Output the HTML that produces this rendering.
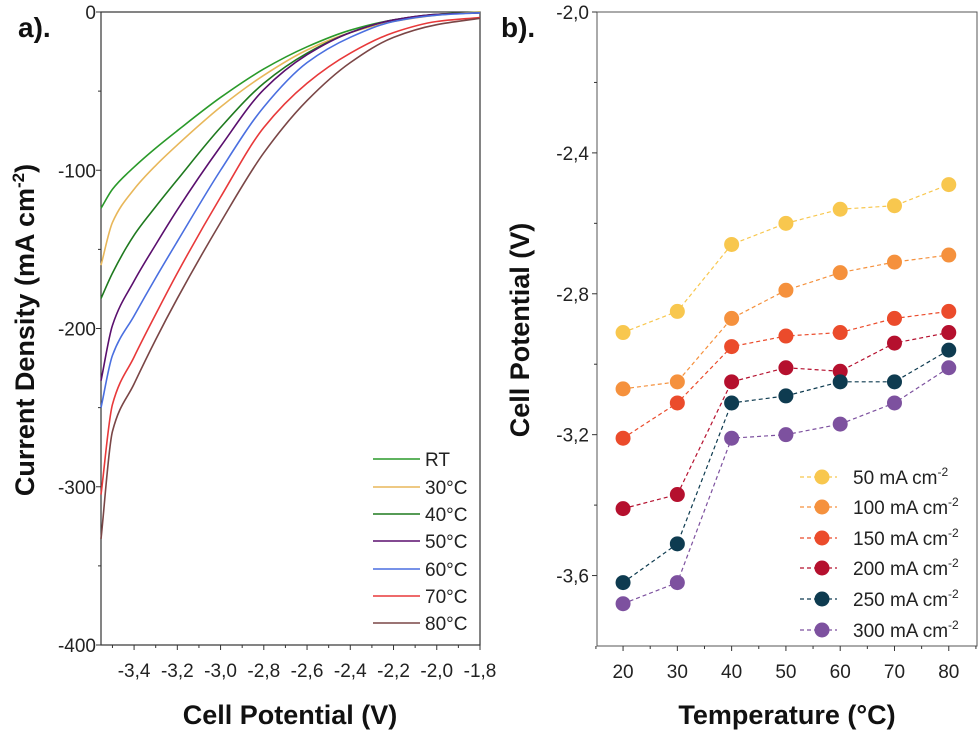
<!DOCTYPE html>
<html><head><meta charset="utf-8"><style>
html,body{margin:0;padding:0;background:#fff;}
svg{display:block;font-family:"Liberation Sans",sans-serif;}
</style></head><body>
<svg id="c" width="980" height="733" viewBox="0 0 980 733" xmlns="http://www.w3.org/2000/svg"></svg>
<script>
// ---- Panel a data ----
const potentials = [-3.553,-3.5,-3.4,-3.3,-3.2,-3.0,-2.8,-2.6,-2.4,-2.2,-2.0,-1.8];
const seriesA_names = ["RT","30°C","40°C","50°C","60°C","70°C","80°C"];
const seriesA_colors = ["#2a9a2a","#e8b75a","#1f7a1f","#5a0f6e","#4a6fe0","#e8393a","#7a4646"];
const jRT  = [-124,-112,-98,-86,-75,-54,-36,-22,-11.5,-5,-1.5,0];
const j30  = [-160,-133,-112,-97,-84,-60,-40,-24,-13,-6,-2,0];
const j40  = [-181,-165,-141,-123,-106,-73,-45,-26,-13,-5,-1.5,-0.5];
const j50  = [-233,-198,-170,-147,-125,-85,-49,-27,-13,-5,-1.5,-0.5];
const j60  = [-250,-217,-192,-168,-145,-100,-60,-32,-16,-6,-2,-0.5];
const j70  = [-305,-248,-218,-191,-165,-117,-73,-45,-26,-13,-6,-3.5];
const j80  = [-333,-265,-235,-207,-181,-133,-89,-56,-32,-16,-8,-4];
const seriesA = [jRT,j30,j40,j50,j60,j70,j80];
const xTicksA = [-3.4,-3.2,-3.0,-2.8,-2.6,-2.4,-2.2,-2.0,-1.8];
const yTicksA = [0,-100,-200,-300,-400];
// ---- Panel b data ----
const temps = [20,30,40,50,60,70,80];
const seriesB_names = ["50 mA cm","100 mA cm","150 mA cm","200 mA cm","250 mA cm","300 mA cm"];
const seriesB_colors = ["#f8c74e","#f5913d","#eb4b2b","#b5102e","#0e3b50","#7d519f"];
const v50  = [-2.91,-2.85,-2.66,-2.60,-2.56,-2.55,-2.49];
const v100 = [-3.07,-3.05,-2.87,-2.79,-2.74,-2.71,-2.69];
const v150 = [-3.21,-3.11,-2.95,-2.92,-2.91,-2.87,-2.85];
const v200 = [-3.41,-3.37,-3.05,-3.01,-3.02,-2.94,-2.91];
const v250 = [-3.62,-3.51,-3.11,-3.09,-3.05,-3.05,-2.96];
const v300 = [-3.68,-3.62,-3.21,-3.20,-3.17,-3.11,-3.01];
const seriesB = [v50,v100,v150,v200,v250,v300];
const xTicksB = [20,30,40,50,60,70,80];
const yTicksB = [-2.0,-2.4,-2.8,-3.2,-3.6];

const NS="http://www.w3.org/2000/svg";
const svg=document.getElementById('c');
function mk(tag,attrs,parent){const e=document.createElementNS(NS,tag);for(const k in attrs)e.setAttribute(k,attrs[k]);(parent||svg).appendChild(e);return e;}
const fmt=v=>v.toFixed(1).replace('.',',');

// Panel a axes
const A={x0:101,x1:480,y0:12,y1:645,xmin:-3.553,xmax:-1.8,ymin:-400,ymax:0};
const xa=v=>A.x0+(v-A.xmin)/(A.xmax-A.xmin)*(A.x1-A.x0);
const ya=v=>A.y0+(A.ymax-v)/(A.ymax-A.ymin)*(A.y1-A.y0);
let g=mk('g',{});


let r=mk('rect',{x:A.x0,y:A.y0,width:A.x1-A.x0,height:A.y1-A.y0,fill:'none',stroke:'#333','stroke-width':1.2},g);


yTicksA.forEach(v=>{
  mk('line',{x1:A.x0,x2:A.x0-5,y1:ya(v),y2:ya(v),stroke:'#333'},g);
  const t=mk('text',{x:A.x0-5,y:ya(v)+7,'text-anchor':'end','font-size':19,fill:'#222'},g);
  t.textContent=v===0?'0':String(v);
  
  
});
[-50,-150,-250,-350].forEach(v=>mk('line',{x1:A.x0,x2:A.x0-3,y1:ya(v),y2:ya(v),stroke:'#333'},g));
xTicksA.forEach(v=>{
  mk('line',{x1:xa(v),x2:xa(v),y1:A.y1,y2:A.y1+5,stroke:'#333'},g);
  const t=mk('text',{x:xa(v),y:A.y1+32,'text-anchor':'middle','font-size':19,fill:'#222'},g);
  t.textContent=fmt(v);
  
  
});
for(let v=-3.5;v<-1.8;v+=0.2) mk('line',{x1:xa(v),x2:xa(v),y1:A.y1,y2:A.y1+3,stroke:'#333'},g);
// monotone cubic (Fritsch-Carlson) for smooth curves through data points
function smooth(pts){
  const n=pts.length,dx=[],sl=[],m=[];
  for(let i=0;i<n-1;i++){dx[i]=pts[i+1][0]-pts[i][0];sl[i]=(pts[i+1][1]-pts[i][1])/dx[i];}
  m[0]=sl[0];m[n-1]=sl[n-2];
  for(let i=1;i<n-1;i++){ if(sl[i-1]*sl[i]<=0) m[i]=0; else { const w1=2*dx[i]+dx[i-1],w2=dx[i]+2*dx[i-1]; m[i]=(w1+w2)/(w1/sl[i-1]+w2/sl[i]); } }
  let d='M'+pts[0][0]+','+pts[0][1];
  for(let i=0;i<n-1;i++){
    const h=dx[i]/3;
    d+=' C'+(pts[i][0]+h)+','+(pts[i][1]+m[i]*h)+' '+(pts[i+1][0]-h)+','+(pts[i+1][1]-m[i+1]*h)+' '+pts[i+1][0]+','+pts[i+1][1];
  }
  return d;
}
const legA=[459,487,514,541,569,596,623];
seriesA.forEach((s,i)=>{
  const pts=s.map((v,k)=>[xa(potentials[k]),ya(v)]);
  const p=mk('path',{d:smooth(pts),fill:'none',stroke:seriesA_colors[i],'stroke-width':1.6},g);
  
  
  const ly=legA[i];
  mk('line',{x1:373,x2:420,y1:ly,y2:ly,stroke:seriesA_colors[i],'stroke-width':1.6},g);
  const t=mk('text',{x:425,y:ly+7,'font-size':19,fill:'#222'},g);
  t.textContent=seriesA_names[i];
  
  
});
let t=mk('text',{x:290,y:724,'text-anchor':'middle','font-size':27,'font-weight':'bold',fill:'#111'});
t.textContent='Cell Potential (V)';


t=mk('text',{transform:'translate(34,330) rotate(-90)','text-anchor':'middle','font-size':27,'font-weight':'bold',fill:'#111'});
t.innerHTML='Current Density (mA cm<tspan dy="-10" font-size="17">-2</tspan><tspan dy="10">)</tspan>';


t=mk('text',{x:18,y:37,'font-size':28,'font-weight':'bold',fill:'#111'});
t.textContent='a).';



// Panel b
const B={x0:597,x1:977,y0:12,y1:646,xmin:15.2,xmax:85.2,ymin:-3.8,ymax:-2.0};
const xb=v=>B.x0+(v-B.xmin)/(B.xmax-B.xmin)*(B.x1-B.x0);
const yb=v=>B.y0+(B.ymax-v)/(B.ymax-B.ymin)*(B.y1-B.y0);
g=mk('g',{});


r=mk('rect',{x:B.x0,y:B.y0,width:B.x1-B.x0,height:B.y1-B.y0,fill:'none',stroke:'#555','stroke-width':1},g);


yTicksB.forEach(v=>{
  mk('line',{x1:B.x0,x2:B.x0-5,y1:yb(v),y2:yb(v),stroke:'#333'},g);
  const t=mk('text',{x:B.x0-8,y:yb(v)+7,'text-anchor':'end','font-size':19,fill:'#222'},g);
  t.textContent=fmt(v);
  
  
});
[-2.2,-2.6,-3.0,-3.4].forEach(v=>mk('line',{x1:B.x0,x2:B.x0-3,y1:yb(v),y2:yb(v),stroke:'#333'},g));
xTicksB.forEach(v=>{
  mk('line',{x1:xb(v),x2:xb(v),y1:B.y1,y2:B.y1+5,stroke:'#333'},g);
  const t=mk('text',{x:xb(v),y:B.y1+32,'text-anchor':'middle','font-size':19,fill:'#222'},g);
  t.textContent=String(v);
  
  
});
for(let v=15;v<=85;v+=10) mk('line',{x1:xb(v),x2:xb(v),y1:B.y1,y2:B.y1+3,stroke:'#333'},g);
const legB=[477,507,538,568,599,630];
seriesB.forEach((s,i)=>{
  const c=seriesB_colors[i];
  const pl=mk('polyline',{points:s.map((v,k)=>xb(temps[k])+','+yb(v)).join(' '),fill:'none',stroke:c,'stroke-width':1.2,'stroke-dasharray':'4,3'},g);
  
  
  s.forEach((v,k)=>{
    const ci=mk('circle',{cx:xb(temps[k]),cy:yb(v),r:7.5,fill:c},g);
    
    
  });
  const ly=legB[i];
  mk('line',{x1:800,x2:837,y1:ly,y2:ly,stroke:c,'stroke-width':1.2,'stroke-dasharray':'4,3'},g);
  mk('circle',{cx:822,cy:ly,r:7.5,fill:c},g);
  const t=mk('text',{x:853,y:ly+7,'font-size':19,fill:'#222'},g);
  t.innerHTML=seriesB_names[i]+'<tspan dy="-8" font-size="12">-2</tspan>';
  
  
});
t=mk('text',{x:787,y:724,'text-anchor':'middle','font-size':27,'font-weight':'bold',fill:'#111'});
t.textContent='Temperature (°C)';


t=mk('text',{transform:'translate(529,330) rotate(-90)','text-anchor':'middle','font-size':27,'font-weight':'bold',fill:'#111'});
t.textContent='Cell Potential (V)';


t=mk('text',{x:501,y:37,'font-size':28,'font-weight':'bold',fill:'#111'});
t.textContent='b).';


</script>
</body></html>
